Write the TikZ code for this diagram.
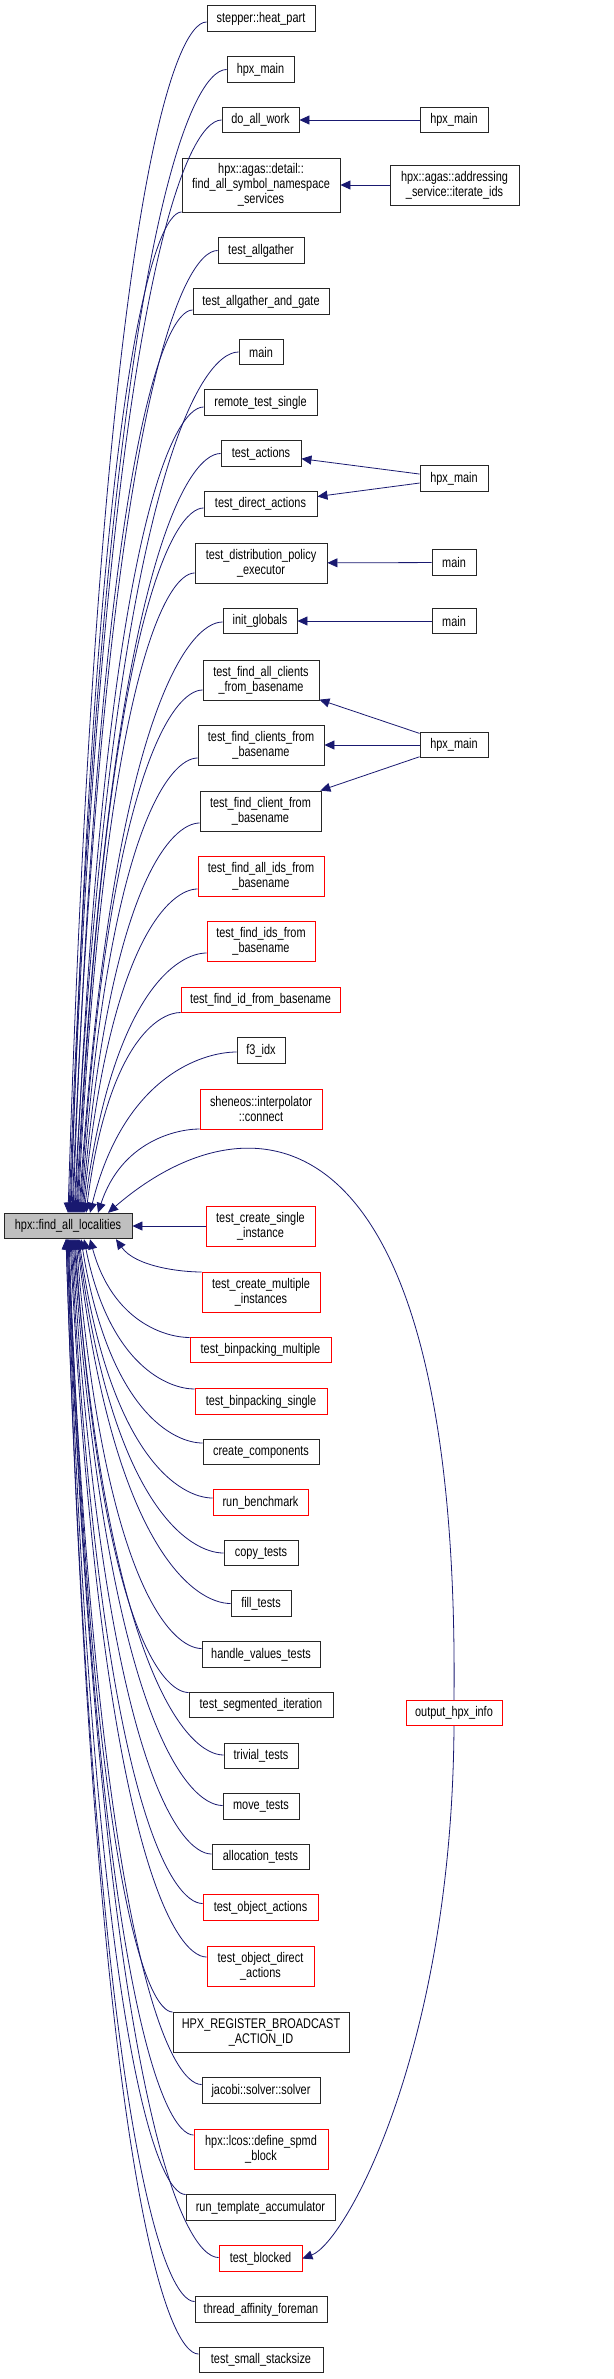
\documentclass[tikz,border=0pt]{standalone}
\usepackage{fontspec}
\newfontfamily\dxfont{Liberation Sans}[FakeStretch=0.78]
\usetikzlibrary{arrows.meta,calc}

\definecolor{edgeblue}{HTML}{191970}
\definecolor{rootgray}{HTML}{BFBFBF}

\tikzset{
  fn/.style={draw=black!85, fill=white, line width=0.9pt, inner sep=0pt,
    minimum height=25.5pt, align=center, font=\dxfont\fontsize{14}{15}\selectfont},
  fnred/.style={fn, draw=red},
  fnroot/.style={fn, fill=rootgray},
  calls/.style={color=edgeblue, line width=0.8pt, -{Triangle[length=10pt,width=9pt]}},
}

\begin{document}
\begin{tikzpicture}[x=1pt,y=-1pt]
\useasboundingbox (0,0) rectangle (613,2379);

% callee
\node[fnroot, minimum width=128pt] (fal) at (68,1226) {hpx::find\_all\_localities};

% direct callers
\node[fn, minimum width=108pt] (stepper) at (261,18.5) {stepper::heat\_part};
\node[fn, minimum width=67pt] (hpxmainA) at (260.5,69.5) {hpx\_main};
\node[fn, minimum width=77pt] (doallwork) at (260.5,120) {do\_all\_work};
\node[fn, minimum width=158pt, minimum height=54pt] (agasdetail) at (261,185) {hpx::agas::detail::\\find\_all\_symbol\_namespace\\\_services};
\node[fn, minimum width=86pt] (allgather) at (261,250.5) {test\_allgather};
\node[fn, minimum width=136pt] (allgathergate) at (261,301.5) {test\_allgather\_and\_gate};
\node[fn, minimum width=44pt] (mainA) at (261,352) {main};
\node[fn, minimum width=113pt] (remotesingle) at (260.5,402.5) {remote\_test\_single};
\node[fn, minimum width=80pt] (tactions) at (261,453.5) {test\_actions};
\node[fn, minimum width=113pt] (tdirect) at (260.5,504) {test\_direct\_actions};
\node[fn, minimum width=132pt, minimum height=40pt] (distrib) at (261,563) {test\_distribution\_policy\\\_executor};
\node[fn, minimum width=74pt] (initglobals) at (260,621) {init\_globals};
\node[fn, minimum width=116pt, minimum height=40pt] (findallclients) at (261,680) {test\_find\_all\_clients\\\_from\_basename};
\node[fn, minimum width=126pt, minimum height=40pt] (findclients) at (261,745) {test\_find\_clients\_from\\\_basename};
\node[fn, minimum width=121pt, minimum height=40pt] (findclient) at (260.5,811) {test\_find\_client\_from\\\_basename};
\node[fnred, minimum width=126pt, minimum height=40pt] (findallids) at (261,876) {test\_find\_all\_ids\_from\\\_basename};
\node[fnred, minimum width=108pt, minimum height=40pt] (findids) at (261,941) {test\_find\_ids\_from\\\_basename};
\node[fnred, minimum width=159pt] (findid) at (260.5,1000) {test\_find\_id\_from\_basename};
\node[fn, minimum width=48pt] (fidx) at (261,1050.5) {f3\_idx};
\node[fnred, minimum width=122pt, minimum height=40pt] (sheneos) at (261,1109) {sheneos::interpolator\\::connect};
\node[fnred, minimum width=109pt, minimum height=40pt] (createsingle) at (260.5,1226) {test\_create\_single\\\_instance};
\node[fnred, minimum width=118pt, minimum height=40pt] (createmultiple) at (261,1292) {test\_create\_multiple\\\_instances};
\node[fnred, minimum width=141pt] (binmultiple) at (260.5,1350) {test\_binpacking\_multiple};
\node[fnred, minimum width=132pt] (binsingle) at (261,1401.5) {test\_binpacking\_single};
\node[fn, minimum width=116pt] (createcomp) at (261,1452) {create\_components};
\node[fnred, minimum width=95pt] (runbench) at (260.5,1502.5) {run\_benchmark};
\node[fn, minimum width=74pt] (copytests) at (261,1553) {copy\_tests};
\node[fn, minimum width=60pt] (filltests) at (261,1603.5) {fill\_tests};
\node[fn, minimum width=118pt] (handlevalues) at (261,1654.5) {handle\_values\_tests};
\node[fn, minimum width=144pt] (segmented) at (261,1705) {test\_segmented\_iteration};
\node[fn, minimum width=74pt] (trivial) at (261,1756) {trivial\_tests};
\node[fn, minimum width=76pt] (movetests) at (261,1806.5) {move\_tests};
\node[fn, minimum width=97pt] (allocation) at (260.5,1857) {allocation\_tests};
\node[fnred, minimum width=115pt] (objactions) at (260.5,1907.5) {test\_object\_actions};
\node[fnred, minimum width=107pt, minimum height=40pt] (objdirect) at (260.5,1966) {test\_object\_direct\\\_actions};
\node[fn, minimum width=176pt, minimum height=40pt] (hpxregister) at (261,2032) {HPX\_REGISTER\_BROADCAST\\\_ACTION\_ID};
\node[fn, minimum width=118pt] (jacobi) at (261,2090.5) {jacobi::solver::solver};
\node[fnred, minimum width=134pt, minimum height=40pt] (spmd) at (261,2149) {hpx::lcos::define\_spmd\\\_block};
\node[fn, minimum width=149pt] (runtemplate) at (260.5,2207.5) {run\_template\_accumulator};
\node[fnred, minimum width=83pt] (tblocked) at (260.5,2258.5) {test\_blocked};
\node[fn, minimum width=132pt] (threadaff) at (261,2309.5) {thread\_affinity\_foreman};
\node[fn, minimum width=124pt] (smallstack) at (261,2360) {test\_small\_stacksize};

% second level callers
\node[fn, minimum width=68pt] (hpxmainB) at (454,120) {hpx\_main};
\node[fn, minimum width=129pt, minimum height=40pt] (iterateids) at (454.5,185) {hpx::agas::addressing\\\_service::iterate\_ids};
\node[fn, minimum width=68pt] (hpxmainC) at (454,478.5) {hpx\_main};
\node[fn, minimum width=44pt] (mainB) at (454,562.5) {main};
\node[fn, minimum width=44pt] (mainC) at (454,621) {main};
\node[fn, minimum width=68pt] (hpxmainD) at (454,745) {hpx\_main};
\node[fnred, minimum width=96pt] (outinfo) at (454,1713) {output\_hpx\_info};

% calls from above
\foreach \nd/\sy/\ex in {stepper/3.5/0, hpxmainA/0/1, doallwork/0/2, agasdetail/27/3,
    allgather/0/4, allgathergate/8.5/5, mainA/0/6, remotesingle/4.5/7, tactions/0/8,
    tdirect/4/9, distrib/10/10, initglobals/1/11, findallclients/10/12, findclients/13/13,
    findclient/12/14, findallids/13/15, findids/12/16, findid/12.5/18, fidx/1.5/22, sheneos/20/30}
  \draw[calls] let \p1=($(\nd.west)+(0,\sy)$), \p2=($(fal.north)+(\ex,0)$) in
    (\p1) .. controls ({\x1-0.23*(\x1-\x2)},\y1) and ({\x2+0.23*(\x1-\x2)},{\y2+0.85*(\y1-\y2)}) .. (\p2);

% calls from below
\foreach \nd/\sy/\ex in {createmultiple/-20/48, binmultiple/-12.5/22, binsingle/-12.5/16,
    createcomp/-9/13, runbench/-4.5/11, copytests/0/10, filltests/0/9, handlevalues/-6/8,
    segmented/-12.5/7, trivial/-1/6, movetests/-1/5, allocation/-3/4, objactions/-4/3,
    objdirect/-9/2, hpxregister/-20/1, jacobi/-6/0, spmd/-14/0, runtemplate/-13/-1,
    tblocked/-1/-1, threadaff/-8/-2, smallstack/-6/-2}
  \draw[calls] let \p1=($(\nd.west)+(0,\sy)$), \p2=($(fal.south)+(\ex,0)$) in
    (\p1) .. controls ({\x1-0.23*(\x1-\x2)},\y1) and ({\x2+0.23*(\x1-\x2)},{\y2+0.85*(\y1-\y2)}) .. (\p2);

\draw[calls] (createsingle.west) -- (fal.east);
\draw[calls] (outinfo.north) .. controls +(6,-600) and +(142,-123) .. ($(fal.north)+(40,0)$);
\draw[calls] (outinfo.south) .. controls +(-2,324) and +(43,-16) .. (tblocked.east);

\path[calls]
  (hpxmainB) edge (doallwork)
  (iterateids) edge (agasdetail)
  (hpxmainC) edge (tactions)
  (hpxmainC) edge (tdirect)
  (mainB) edge (distrib)
  (mainC) edge (initglobals)
  (hpxmainD) edge (findallclients)
  (hpxmainD) edge (findclients)
  (hpxmainD) edge (findclient);
\end{tikzpicture}
\end{document}
